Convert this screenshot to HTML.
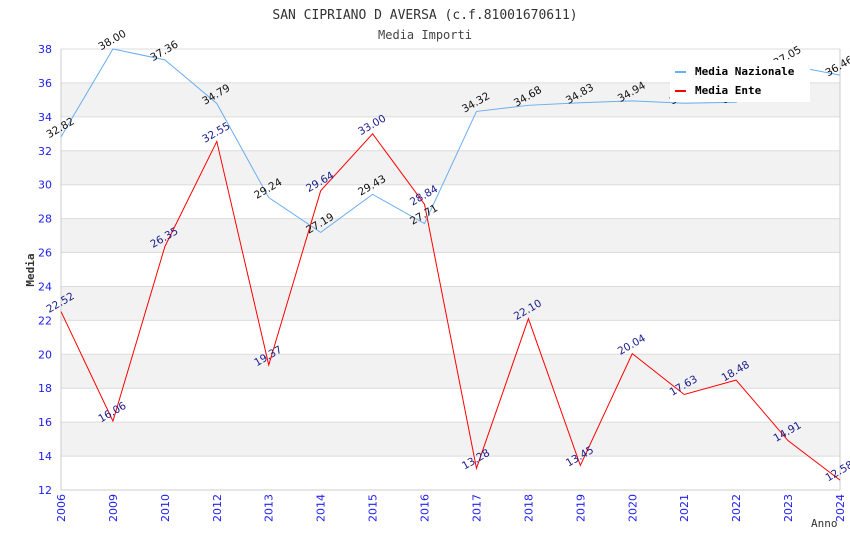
<!DOCTYPE html>
<html><head><meta charset="utf-8"><style>
body{margin:0;background:#fff}
svg text{font-family:"DejaVu Sans","Liberation Sans",sans-serif}
svg text.mono{font-family:"DejaVu Sans Mono","Liberation Mono",monospace}
</style></head><body>
<svg id="chart" width="850" height="550" xmlns="http://www.w3.org/2000/svg">
<text class="mono" x="425" y="19" text-anchor="middle" font-size="13" fill="#333">SAN CIPRIANO D AVERSA (c.f.81001670611)</text>
<text class="mono" x="425" y="39" text-anchor="middle" font-size="12" fill="#444">Media Importi</text>
<text class="mono" transform="translate(34,270) rotate(-90)" text-anchor="middle" font-size="11" font-weight="bold" fill="#333">Media</text>
<text class="mono" x="811" y="527" font-size="11" fill="#333">Anno</text>
<g id="grid"></g><g id="series"></g><g id="labels"></g>
<g>
<rect x="670" y="60" width="140" height="42" fill="#fff"/>
<rect x="675" y="71" width="11" height="2" fill="#6aaef0"/>
<text class="mono" x="695" y="75" font-size="11" font-weight="bold">Media Nazionale</text>
<rect x="675" y="90" width="11" height="2" fill="#f00"/>
<text class="mono" x="695" y="94" font-size="11" font-weight="bold">Media Ente</text>
</g>
</svg>
<script>
const categories=["2006","2009","2010","2012","2013","2014","2015","2016","2017","2018","2019","2020","2021","2022","2023","2024"];
const nazionale=[32.82,38.00,37.36,34.79,29.24,27.19,29.43,27.71,34.32,34.68,34.83,34.94,34.80,34.86,37.05,36.46];
const ente=[22.52,16.06,26.35,32.55,19.37,29.64,33.00,28.84,13.28,22.10,13.45,20.04,17.63,18.48,14.91,12.58];
const yTicks=[12,14,16,18,20,22,24,26,28,30,32,34,36,38];
const NS="http://www.w3.org/2000/svg";
const L=61,R=840,T=49,B=490,ymin=12,ymax=38;
const x=i=>L+i*(R-L)/(categories.length-1);
const y=v=>B-(v-ymin)/(ymax-ymin)*(B-T);
function mk(tag,attrs,parent){const e=document.createElementNS(NS,tag);for(const k in attrs)e.setAttribute(k,attrs[k]);parent.appendChild(e);return e;}
const grid=document.getElementById('grid'),ser=document.getElementById('series'),lab=document.getElementById('labels');
for(let k=0;k<yTicks.length-1;k++){
  if(k%2===1){const r=mk('rect',{x:L,y:y(yTicks[k+1]),width:R-L,height:y(yTicks[k])-y(yTicks[k+1]),fill:'#f2f2f2'},grid);
  
  }
}
yTicks.forEach(t=>{
  const l=mk('line',{x1:L,x2:R,y1:y(t),y2:y(t),stroke:'#dcdcdc'},grid);
  
  
  const tx=mk('text',{x:L-9,y:y(t)+4,'text-anchor':'end','font-size':11,fill:'#2020ee'},grid);
  tx.textContent=t;
  
  
});
mk('line',{x1:L,x2:L,y1:T,y2:B,stroke:'#ccc'},grid);
mk('line',{x1:R,x2:R,y1:T,y2:B,stroke:'#ccc'},grid);
mk('line',{x1:L,x2:R,y1:B,y2:B,stroke:'#ccc'},grid);
categories.forEach((c,i)=>{
  const tx=mk('text',{transform:`translate(${x(i)+4},${B+4}) rotate(-90)`,'text-anchor':'end','font-size':11,fill:'#2020ee'},grid);
  tx.textContent=c;
  
  
});
function draw(vals,color,name,lc){
  const p=mk('polyline',{points:vals.map((v,i)=>x(i)+','+y(v)).join(' '),fill:'none',stroke:color,'stroke-width':1},ser);
  
  
  vals.forEach((v,i)=>{
    const t=mk('text',{transform:`translate(${x(i)+1},${y(v)-6}) rotate(-30)`,'text-anchor':'middle','font-size':10.5,fill:lc},lab);
    t.textContent=v.toFixed(2);
    
    
  });
}
draw(nazionale,'#6aaef0','nazionale','#111');
draw(ente,'#f00','ente','#1a1a8c');
</script>
</body></html>
